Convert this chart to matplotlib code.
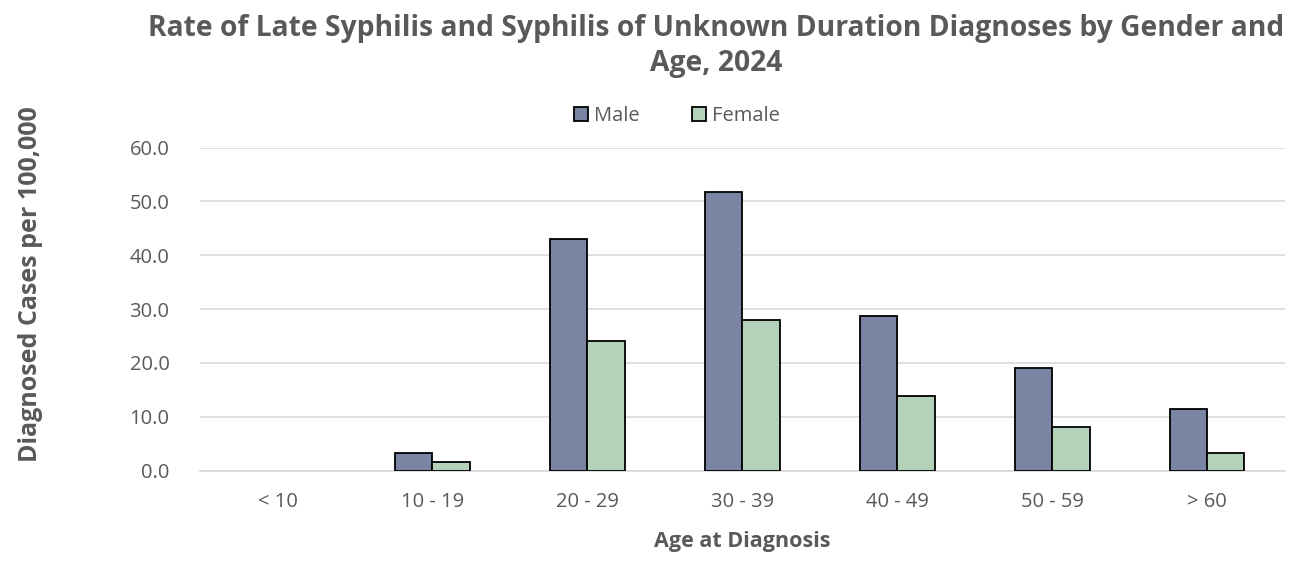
import matplotlib
matplotlib.use("Agg")
import matplotlib.pyplot as plt
from matplotlib.patches import Patch
import numpy as np

# Data
AGE_GROUPS = ["< 10", "10 - 19", "20 - 29", "30 - 39", "40 - 49", "50 - 59", "> 60"]
MALE = [0.0, 3.2, 43.0, 51.7, 28.7, 19.0, 11.5]
FEMALE = [0.0, 1.6, 24.1, 27.9, 13.8, 8.1, 3.2]

MALE_COLOR = "#7A84A3"
FEMALE_COLOR = "#B4D2B9"
TEXT_GRAY = "#595959"

plt.rcParams["font.family"] = ["Open Sans", "DejaVu Sans"]

fig = plt.figure(figsize=(13.07, 5.61), dpi=100)
ax = fig.add_axes([0.153, 0.161, 0.830, 0.576])

x = np.arange(len(AGE_GROUPS))
width = 0.24
# zero-height bars get no outline, as in the original
ax.bar(x - width / 2, MALE, width, color=MALE_COLOR, edgecolor="black",
       linewidth=[1.3 if v > 0 else 0 for v in MALE], zorder=3)
ax.bar(x + width / 2, FEMALE, width, color=FEMALE_COLOR, edgecolor="black",
       linewidth=[1.3 if v > 0 else 0 for v in FEMALE], zorder=3)

ax.set_xlim(-0.5, len(AGE_GROUPS) - 0.5)
ax.set_ylim(0, 60)
ax.set_yticks(np.arange(0, 61, 10))
ax.set_yticklabels([f"{v:.1f}" for v in np.arange(0, 61, 10)])
ax.set_xticks(x)
ax.set_xticklabels(AGE_GROUPS)
ax.tick_params(axis="both", length=0, labelsize=14.5, labelcolor=TEXT_GRAY)
ax.tick_params(axis="y", pad=22)
ax.tick_params(axis="x", pad=15)

ax.grid(axis="y", color="#D9D9D9", linewidth=1.2, zorder=0)
for side in ["top", "right", "left"]:
    ax.spines[side].set_visible(False)
ax.spines["bottom"].set_color("#D9D9D9")
ax.spines["bottom"].set_linewidth(1.2)

ax.set_xlabel("Age at Diagnosis", fontsize=15.5, fontweight="bold",
              color=TEXT_GRAY, labelpad=14)
fig.text(0.023, 0.494, "Diagnosed Cases per 100,000", rotation=90,
         fontsize=18, fontweight="bold", color=TEXT_GRAY,
         ha="center", va="center")

fig.suptitle("Rate of Late Syphilis and Syphilis of Unknown Duration Diagnoses by Gender and\nAge, 2024",
             x=0.548, y=0.975, fontsize=20.3, fontweight="bold", color=TEXT_GRAY,
             linespacing=1.25)

handles = [Patch(facecolor=MALE_COLOR, edgecolor="black", linewidth=1.3, label="Male"),
           Patch(facecolor=FEMALE_COLOR, edgecolor="black", linewidth=1.3, label="Female")]
ax.legend(handles=handles, loc="lower center", bbox_to_anchor=(0.44, 1.01), ncol=2,
          frameon=False, fontsize=14.5, labelcolor=TEXT_GRAY, handlelength=0.7,
          handleheight=0.7, handletextpad=0.3, columnspacing=2.6)

fig.savefig("out.png", dpi=100)
